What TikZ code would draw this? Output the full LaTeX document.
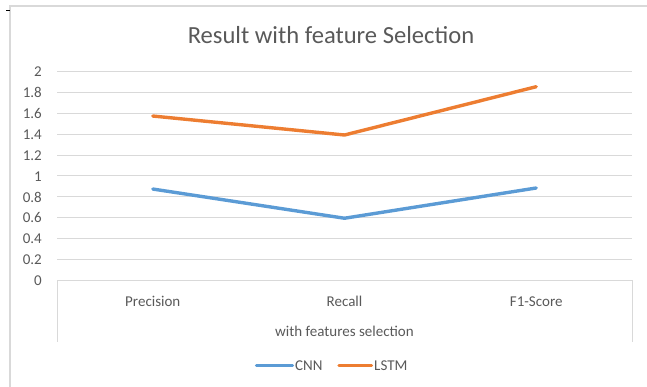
\documentclass[tikz,border=0pt]{standalone}
\usepackage{fontspec}
\setmainfont{Carlito}
\definecolor{CNNBlue}{HTML}{5B9BD5}
\definecolor{LSTMOrange}{HTML}{ED7D31}
\definecolor{gridgray}{HTML}{D9D9D9}
\definecolor{labelgray}{HTML}{595959}
\usetikzlibrary{positioning}

\begin{document}
\begin{tikzpicture}[x=1pt,y=-1pt,font=\fontsize{15}{18}\selectfont,text=labelgray,
  grid/.style={gridgray,line width=1pt},
  series/.style={line width=3.4pt,line cap=round,line join=round}]
\useasboundingbox (0,0) rectangle (647,387);
% chart frame
\draw[gridgray,line width=1.2pt] (10,387) -- (10,6) -- (647,6);
\draw[black,line width=1pt] (6,10.5) -- (10,10.5);
\node[anchor=base,font=\fontsize{24.6}{28}\selectfont] (title) at (331,43.3) {Result with feature Selection};
% value axis and grid
\foreach \v [count=\k from 0] in {0,0.2,0.4,0.6,0.8,1,1.2,1.4,1.6,1.8,2}{
  \node[anchor=base east,inner sep=0] (tick\k) at (42,{280.3-20.86*\k+5.2}) {\v};
  \ifnum\k>0 \draw[grid] (57,{280.3-20.86*\k}) -- (632,{280.3-20.86*\k}); \fi
}
% category box
\draw[grid] (57,341.7) -- (57,280.3) -- (632,280.3) -- (632,341.7);
\foreach \c/\name [count=\i] in {152.8/Precision,344.5/Recall,536.2/F1-Score}
  \node[anchor=base,inner sep=0] (cat\i) at (\c,306.5) {\name};
\node[anchor=base,inner sep=0] (axistitle) at (344.5,336) {with features selection};
% data series
\foreach \c/\v [count=\i] in {152.8/0.875,344.5/0.595,536.2/0.885}
  \coordinate (cnn\i) at (\c,{280.3-104.3*\v});
\foreach \c/\v [count=\i] in {152.8/1.575,344.5/1.393,536.2/1.856}
  \coordinate (lstm\i) at (\c,{280.3-104.3*\v});
\draw[series,CNNBlue] (cnn1) -- (cnn2) -- (cnn3);
\draw[series,LSTMOrange] (lstm1) -- (lstm2) -- (lstm3);
% legend
\node[anchor=base west,inner sep=0] (cnnkey) at (295,370) {CNN};
\node[anchor=base west,inner sep=0] (lstmkey) at (374,370) {LSTM};
\coordinate (cnnmark) at (256.5,365.5);
\coordinate (lstmmark) at (339,365.5);
\draw[series,CNNBlue] (cnnmark) -- ([xshift=-2.5pt]cnnmark -| cnnkey.west);
\draw[series,LSTMOrange] (lstmmark) -- ([xshift=-2.5pt]lstmmark -| lstmkey.west);
\end{tikzpicture}
\end{document}
